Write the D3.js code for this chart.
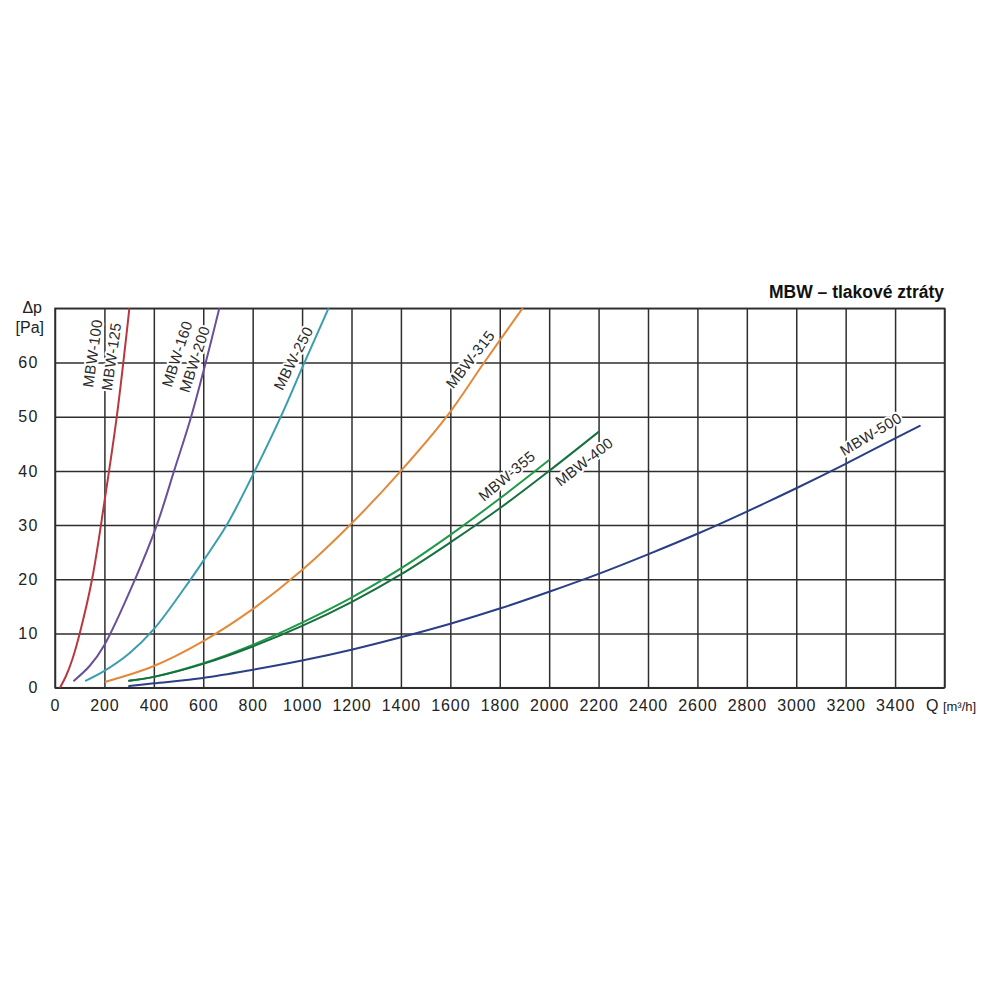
<!DOCTYPE html>
<html>
<head>
<meta charset="utf-8">
<script src="https://cdn.jsdelivr.net/npm/d3@7"></script>
<style>
  html, body { margin: 0; padding: 0; background: #fff; }
  svg { display: block; font-family: "Liberation Sans", Arial, Helvetica, sans-serif; }
</style>
</head>
<body>
<svg id="chart" width="1000" height="1000"></svg>
<script>
// ---------------- data ----------------
const xTicks = [0,200,400,600,800,1000,1200,1400,1600,1800,2000,2200,2400,2600,2800,3000,3200,3400];
const yTicks = [0,10,20,30,40,50,60];
const seriesNames = ["MBW-100/125","MBW-160/200","MBW-250","MBW-315","MBW-355","MBW-400","MBW-500"];

const q100 = [20, 45, 70, 100, 150, 200, 250, 301];
const p100 = [0, 2.2, 5.2, 10, 20, 34.3, 50, 70];

const q160 = [77, 140, 200, 324, 412, 482, 551, 610, 665];
const p160 = [1.3, 4.0, 7.9, 20, 30, 40, 50, 60, 70];

const q250 = [125, 200, 300, 400, 549, 600, 695, 800, 914, 1005, 1107];
const p250 = [1.3, 3.1, 6.3, 10.8, 20, 23.4, 30, 39.2, 50, 59.5, 70];

const q315 = [205, 400, 600, 800, 1000, 1200, 1400, 1585, 1737, 1892];
const p315 = [1.1, 4.0, 8.6, 14.5, 21.7, 30.3, 40, 50, 60, 70];

const q355 = [300, 400, 600, 800, 1000, 1200, 1400, 1600, 1800, 2000];
const p355 = [1.3, 2.0, 4.5, 7.9, 12.0, 16.6, 22.0, 28.2, 34.9, 42.0];

const q400 = [300, 400, 600, 800, 1000, 1200, 1400, 1600, 1800, 2000, 2200];
const p400 = [1.3, 2.0, 4.4, 7.6, 11.4, 15.8, 20.9, 26.8, 33.1, 40.0, 47.2];

const q500 = [300, 400, 600, 800, 1000, 1200, 1400, 1600, 1800, 2000, 2200, 2400, 2600, 2800, 3000, 3200, 3400, 3500];
const p500 = [0.3, 0.8, 1.8, 3.3, 5.0, 7.0, 9.3, 11.8, 14.6, 17.7, 21.0, 24.6, 28.4, 32.5, 36.8, 41.3, 46.0, 48.3];

const curveLabels = ["MBW-100","MBW-125","MBW-160","MBW-200","MBW-250","MBW-315","MBW-355","MBW-400","MBW-500"];

// ---------------- layout / styles ----------------
const colors = ["#b8383f","#6a4f9a","#3a9db0","#e6883a","#1f9a48","#17703f","#2a3f86"];
const seriesQ = [q100, q160, q250, q315, q355, q400, q500];
const seriesP = [p100, p160, p250, p315, p355, p400, p500];

// label anchor (in data units) and rotation
const labelPlace = [
  {q: 151, p: 61.7, r: -82},
  {q: 227, p: 61.1, r: -82},
  {q: 493, p: 61.6, r: -72},
  {q: 564, p: 60.6, r: -72},
  {q: 964, p: 60.8, r: -63},
  {q: 1680, p: 60.6, r: -52},
  {q: 1828, p: 39.1, r: -40},
  {q: 2141, p: 41.7, r: -38},
  {q: 3301, p: 46.8, r: -31}
];

const X0 = 55, X1 = 944.5, Y0 = 687.7, Y1 = 308.3;
const x = d3.scaleLinear().domain([0, 3600]).range([X0, X1]);
const y = d3.scaleLinear().domain([0, 70]).range([Y0, Y1]);

const svg = d3.select("#chart");
const gridColor = "#2e2e2e";

// grid + x axis
const gx = svg.append("g").attr("transform", `translate(0,${Y0})`)
  .call(d3.axisBottom(x).tickValues(xTicks.concat([3600])).tickSize(-(Y0 - Y1)).tickPadding(12)
    .tickFormat(d => d === 3600 ? "" : String(d)));
gx.select(".domain").remove();
gx.selectAll(".tick line").attr("stroke", gridColor).attr("stroke-width", 1.5);
gx.selectAll(".tick text").attr("fill", "#222").style("font-size", "16px").style("letter-spacing", "0.9px")
  .attr("font-family", null);

const gy = svg.append("g").attr("transform", `translate(${X0},0)`)
  .call(d3.axisLeft(y).tickValues(yTicks.concat([70])).tickSize(-(X1 - X0)).tickPadding(16.5)
    .tickFormat(d => d === 70 ? "" : String(d)));
gy.select(".domain").remove();
gy.selectAll(".tick line").attr("stroke", gridColor).attr("stroke-width", 1.5);
gy.selectAll(".tick text").attr("fill", "#222").style("font-size", "16px").style("letter-spacing", "1.2px")
  .attr("font-family", null);

// frame
svg.append("rect").attr("x", X0).attr("y", Y1).attr("width", X1 - X0).attr("height", Y0 - Y1)
  .attr("fill", "none").attr("stroke", gridColor).attr("stroke-width", 1.5);

// curves
const line = d3.line().x(d => x(d[0])).y(d => y(d[1])).curve(d3.curveCatmullRom.alpha(0.5));
svg.append("clipPath").attr("id", "plotclip")
  .append("rect").attr("x", X0).attr("y", Y1).attr("width", X1 - X0).attr("height", Y0 - Y1);
const curves = svg.append("g").attr("clip-path", "url(#plotclip)");
seriesNames.forEach((name, i) => {
  const pts = seriesQ[i].map((q, k) => [q, seriesP[i][k]]);
  curves.append("path").datum(pts).attr("d", line)
    .attr("fill", "none").attr("stroke", colors[i]).attr("stroke-width", 2)
    .attr("stroke-linecap", "round");
});

// curve labels with white halo
curveLabels.forEach((t, i) => {
  const L = labelPlace[i];
  svg.append("text")
    .attr("transform", `translate(${x(L.q)},${y(L.p)}) rotate(${L.r})`)
    .attr("text-anchor", "middle").attr("dominant-baseline", "central")
    .style("font-size", "15px").style("letter-spacing", "0.3px")
    .attr("fill", "#2a2a2a").attr("stroke", "#fff").attr("stroke-width", 4)
    .attr("paint-order", "stroke").attr("stroke-linejoin", "round")
    .text(t);
});

// axis titles
svg.append("text").attr("x", 42).attr("y", 313).attr("text-anchor", "end")
  .style("font-size", "16px").attr("fill", "#222").text("Δp");
svg.append("text").attr("x", 44).attr("y", 333).attr("text-anchor", "end")
  .style("font-size", "16px").attr("fill", "#222").text("[Pa]");

const qt = svg.append("text").attr("x", 926).attr("y", 711).attr("fill", "#222");
qt.append("tspan").style("font-size", "16px").text("Q ");
qt.append("tspan").style("font-size", "13px").text("[m³/h]");

// chart title
svg.append("text").attr("x", 944).attr("y", 297.5).attr("text-anchor", "end")
  .style("font-size", "17.5px").style("font-weight", "bold").attr("fill", "#111")
  .text("MBW – tlakové ztráty");
</script>
</body>
</html>
